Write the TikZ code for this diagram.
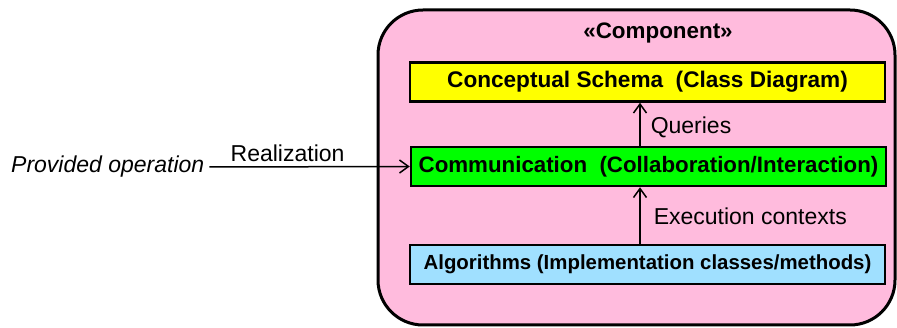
\documentclass[tikz,border=0pt]{standalone}
\usepackage{fontspec}
\setmainfont{Liberation Sans}
\usetikzlibrary{arrows.meta}
\definecolor{pinkbg}{RGB}{255,187,221}
\definecolor{ybox}{RGB}{255,255,0}
\definecolor{gbox}{RGB}{0,255,0}
\definecolor{bbox}{RGB}{160,224,255}
\tikzset{
  layer/.style={draw=black, line width=2.5pt, minimum width=475pt, minimum height=39pt, inner sep=0pt, font=\fontsize{22.6}{26}\selectfont\bfseries},
  lbl/.style={inner sep=0pt, font=\fontsize{23}{27}\selectfont},
  conn/.style={line width=1.5pt, -{Straight Barb[length=9pt,width=13pt,line width=1.5pt]}}
}
\begin{document}
\begin{tikzpicture}[x=1pt,y=-1pt]
\useasboundingbox (0,0) rectangle (897,328);
\draw[fill=pinkbg, line width=3pt, rounded corners=45pt] (378,10) rectangle (895,325);
\node[lbl, font=\fontsize{22.4}{26}\selectfont\bfseries] (comp) at (658,33) {«Component»};
\node[layer, fill=ybox] (cs) at (647.5,82) {Conceptual Schema\ \ (Class Diagram)};
\node[layer, fill=gbox, font=\fontsize{22.3}{26}\selectfont\bfseries] (cm) at (648.5,166.5) {Communication\ \ (Collaboration/Interaction)};
\node[layer, fill=bbox, font=\fontsize{20.4}{23}\selectfont\bfseries] (al) at (647.5,264.5) {Algorithms (Implementation classes/methods)};
\node[lbl, font=\fontsize{23}{27}\selectfont\itshape, anchor=west] (po) at (11,167) {Provided operation};
\draw[conn] ([xshift=5pt]po.east) -- (cm.west) node[pos=0.39, above=4pt, lbl] (rz) {Realization};
\draw[conn] (cm.north -| 640,0) -- (cs.south -| 640,0) node[midway, right=10pt, yshift=-3pt, lbl] (q) {Queries};
\draw[conn] (al.north -| 640,0) -- (cm.south -| 640,0) node[midway, right=13pt, yshift=-1pt, lbl] (ec) {Execution contexts};
\end{tikzpicture}
\end{document}
